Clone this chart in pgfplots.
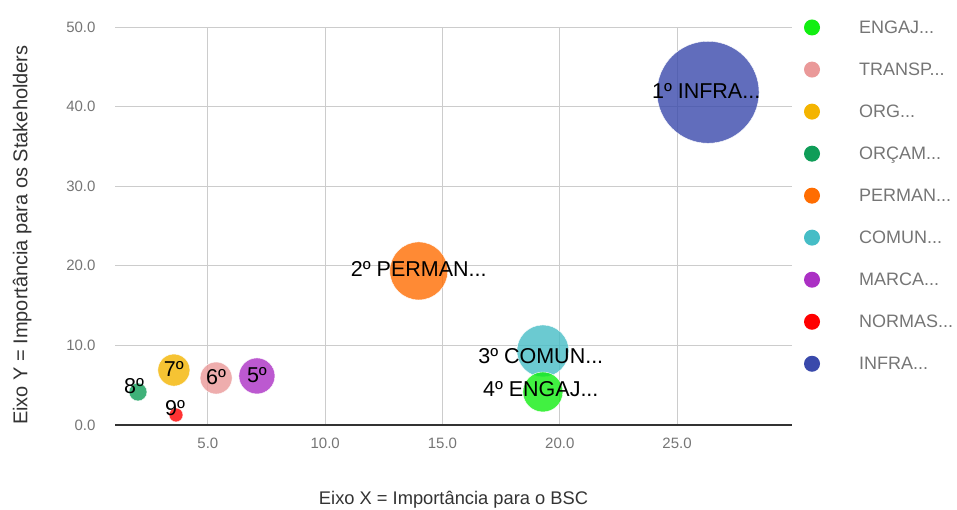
\documentclass[border=0pt]{standalone}
\usepackage{pgfplots}
\pgfplotsset{compat=1.18}
\usepackage{fontspec}
\setmainfont{Liberation Sans}
\definecolor{cEngaj}{HTML}{11EE11}
\definecolor{cTransp}{HTML}{EA9999}
\definecolor{cOrg}{HTML}{F4B400}
\definecolor{cOrcam}{HTML}{0F9D58}
\definecolor{cPerman}{HTML}{FF6D01}
\definecolor{cComun}{HTML}{46BDC6}
\definecolor{cMarca}{HTML}{AB30C4}
\definecolor{cNormas}{HTML}{FF0000}
\definecolor{cInfra}{HTML}{3949AB}
\definecolor{gridc}{HTML}{CCCCCC}
\definecolor{tickc}{HTML}{757575}
\definecolor{titlec}{HTML}{333333}
\newcommand{\legtxt}[1]{\hspace*{37pt}#1}
\begin{document}
\begin{tikzpicture}
\path[use as bounding box] (0,0) rectangle (957pt,510pt);
\begin{axis}[
  at={(115pt,85pt)}, anchor=south west,
  scale only axis, width=677pt, height=398pt,
  xmin=1.04, xmax=29.9, ymin=0, ymax=50,
  xtick={5,10,15,20,25}, ytick={0,10,20,30,40,50},
  axis x line=bottom, axis y line=left,
  x axis line style={-, color=titlec, line width=1.3pt},
  y axis line style={draw=none},
  major tick length=0pt,
  grid=major, major grid style={color=gridc, line width=0.9pt},
  /pgf/number format/.cd, fixed, fixed zerofill, precision=1, assume math mode=true, /pgfplots/.cd,
  ticklabel style={font=\fontsize{15}{18}\selectfont, text=tickc},
  xticklabel style={yshift=-9pt},
  yticklabel style={xshift=-16pt},
  xlabel={Eixo X = Importância para o BSC},
  ylabel={Eixo Y = Importância para os Stakeholders},
  label style={text=titlec},
  xlabel style={font=\fontsize{18.3}{21}\selectfont, at={(axis description cs:0.5,-0.188)}, anchor=center},
  ylabel style={font=\fontsize{20}{23}\selectfont, at={(axis description cs:-0.137,0.477)}, anchor=center, rotate=0},
  legend style={at={(1.013,1.027)}, anchor=north west, draw=none, fill=none,
    font=\fontsize{18}{21}\selectfont, text=tickc, row sep=24pt,
    cells={anchor=west}},
  legend image code/.code={\fill[#1, draw=none] (4pt,0pt) circle (8pt);},
  clip=true,
]
% bubbles, largest first
\addplot[forget plot, only marks, mark=*, mark size=51pt, mark options={fill=cInfra, fill opacity=0.8, draw=white, line width=0.4pt}] coordinates {(26.32,41.8)};
\addplot[forget plot, only marks, mark=*, mark size=29pt, mark options={fill=cPerman, fill opacity=0.8, draw=white, line width=0.4pt}] coordinates {(13.99,19.35)};
\addplot[forget plot, only marks, mark=*, mark size=26pt, mark options={fill=cComun, fill opacity=0.8, draw=white, line width=0.4pt}] coordinates {(19.28,9.3)};
\addplot[forget plot, only marks, mark=*, mark size=20pt, mark options={fill=cEngaj, fill opacity=0.8, draw=white, line width=0.4pt}] coordinates {(19.28,4.15)};
\addplot[forget plot, only marks, mark=*, mark size=18pt, mark options={fill=cMarca, fill opacity=0.8, draw=white, line width=0.4pt}] coordinates {(7.09,6.16)};
\addplot[forget plot, only marks, mark=*, mark size=16pt, mark options={fill=cTransp, fill opacity=0.8, draw=white, line width=0.4pt}] coordinates {(5.35,5.9)};
\addplot[forget plot, only marks, mark=*, mark size=16pt, mark options={fill=cOrg, fill opacity=0.8, draw=white, line width=0.4pt}] coordinates {(3.55,6.9)};
\addplot[forget plot, only marks, mark=*, mark size=9pt, mark options={fill=cOrcam, fill opacity=0.8, draw=white, line width=0.4pt}] coordinates {(2.02,4.15)};
\addplot[forget plot, only marks, mark=*, mark size=7pt, mark options={fill=cNormas, fill opacity=0.8, draw=white, line width=0.4pt}] coordinates {(3.64,1.26)};
% labels
\addplot[forget plot, only marks, mark=none, point meta=explicit symbolic,
  nodes near coords,
  every node near coord/.append style={anchor=center, font=\fontsize{21.5}{24}\selectfont, text=black, inner sep=0pt}]
  coordinates {
  (26.24,41.9) [1º INFRA...]
  (13.99,19.55) [2º PERMAN...]
  (19.19,8.67) [3º COMUN...]
  (19.19,4.52) [4º ENGAJ...]
  (7.09,6.28) [5º]
  (5.35,6.03) [6º]
  (3.55,7.04) [7º]
  (1.85,4.9) [8º]
  (3.6,2.13) [9º]
  };
\addlegendimage{fill=cEngaj}\addlegendentry{\legtxt{ENGAJ...}}
\addlegendimage{fill=cTransp}\addlegendentry{\legtxt{TRANSP...}}
\addlegendimage{fill=cOrg}\addlegendentry{\legtxt{ORG...}}
\addlegendimage{fill=cOrcam}\addlegendentry{\legtxt{ORÇAM...}}
\addlegendimage{fill=cPerman}\addlegendentry{\legtxt{PERMAN...}}
\addlegendimage{fill=cComun}\addlegendentry{\legtxt{COMUN...}}
\addlegendimage{fill=cMarca}\addlegendentry{\legtxt{MARCA...}}
\addlegendimage{fill=cNormas}\addlegendentry{\legtxt{NORMAS...}}
\addlegendimage{fill=cInfra}\addlegendentry{\legtxt{INFRA...}}
\end{axis}
\end{tikzpicture}
\end{document}
